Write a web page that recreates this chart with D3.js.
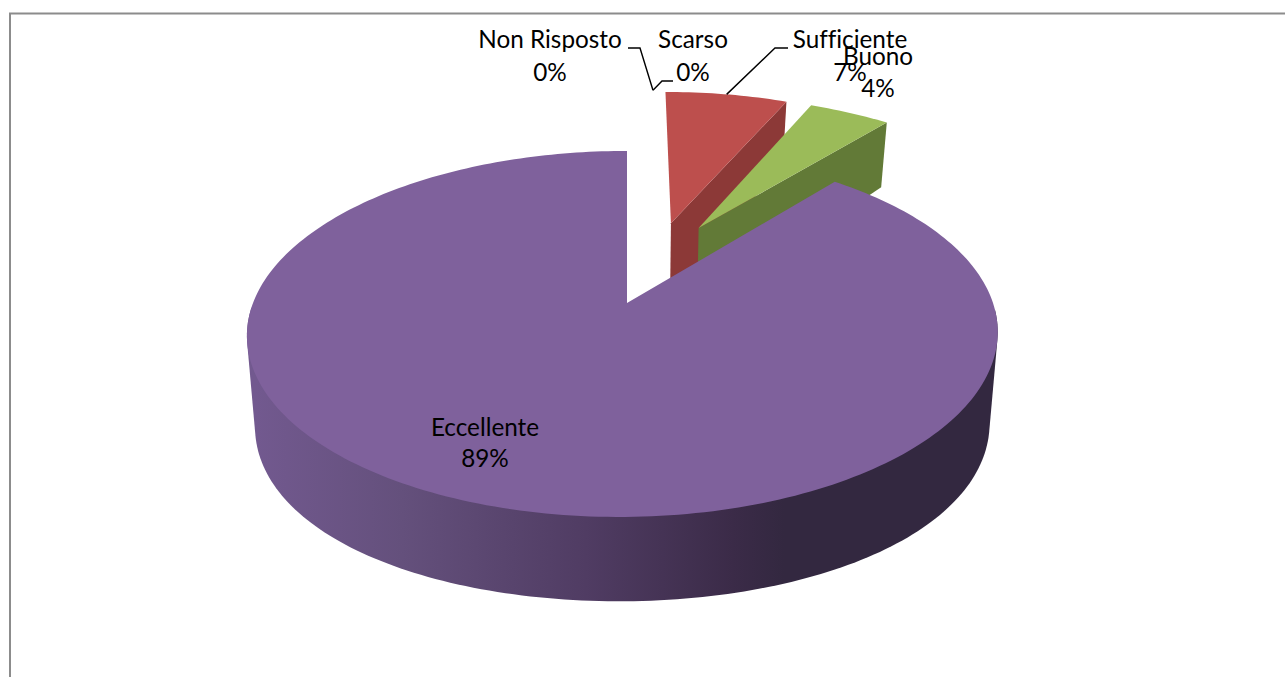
<!DOCTYPE html>
<html><head><meta charset="utf-8">
<style>html,body{margin:0;padding:0;background:#fff;overflow:hidden}
text{font-family:Lato,"Open Sans",sans-serif;font-size:24.3px;fill:#000;text-anchor:middle;font-variant-ligatures:none}</style>
<script src="https://cdn.jsdelivr.net/npm/d3@7"></script></head>
<body><script>
const categories = ["Non Risposto","Scarso","Sufficiente","Buono","Eccellente"];
const values = [0,0,6.6,4.4,89];
const percentLabels = ["0%","0%","7%","4%","89%"];
const topColors = ["#4f81bd","#c0504d","#bd4f4d","#9bbb59","#7f619c"];
const wallColors = ["#385d8a","#8c3937","#8c3937","#627a37","#5a4570"];
// explosion of each slice, in units of the pie radius [sideways, backwards]
const explode = [[0.088,0.50],[0.088,0.50],[0.13,0.485],[0.21,0.454],[0,0]];
// label layout: centre x, first-line baseline, second-line baseline
const labelPos = [[550,48,81],[693,48,81],[850,48,81],[878,65,97],[485,436,467]];
// leader polylines: elbow points, ending at the slice
const leaders = [[[628,48],[640,48]],[[673,81],[662,81]],[[788,48],[775,48]],null,null];

const W=1285,H=677;
const svg=d3.select("body").append("svg").attr("width",W).attr("height",H).style("display","block");

// perspective projection of the pie's unit circle, top and bottom planes
const K=0.169, K2=0.1, CX=627, CY=303, SKEW=4;
const project=(u,v,bottom)=>{
  const den=1+K*v;
  const skew=SKEW*(u*u+v*v)*Math.max(0,1-v);
  return bottom ? [CX+362*u/den-skew, CY+89.4-188*v/(1+K2*v)]
                : [CX+370*u/den-skew, CY-177.8*v/den];
};
const arcs=d3.pie().sort(null).value(d=>d)(values);
const angles=(a)=>{
  const n=Math.max(2,Math.ceil((a.endAngle-a.startAngle)/0.02));
  return d3.range(n+1).map(j=>a.startAngle+(a.endAngle-a.startAngle)*j/n);
};
const atAngle=(t,i,bottom)=>project(Math.sin(t)+explode[i][0],Math.cos(t)+explode[i][1],bottom);
const rim=(a,i,bottom)=>angles(a).map(t=>atAngle(t,i,bottom));
const apex=(i,bottom)=>project(explode[i][0],explode[i][1],bottom);
const line=d3.line();

// frame (top and left edges are the only ones in view)
svg.append("path").attr("d",line([[10,H],[10,13.5],[W,13.5]]))
  .attr("fill","none").attr("stroke","#8c8c8c").attr("stroke-width",2);

// gradient of the large wall
const defs=svg.append("defs");
const grad=defs.append("linearGradient").attr("id","wall").attr("gradientUnits","userSpaceOnUse")
  .attr("x1",255).attr("x2",990).attr("y1",0).attr("y2",0);
[[0,"#72598f"],[0.2,"#64507c"],[0.45,"#503c63"],[0.65,"#3b2b48"],[0.72,"#332840"],[1,"#332840"]]
  .forEach(s=>grad.append("stop").attr("offset",s[0]).attr("stop-color",s[1]));

const g=svg.append("g");
[2,3,4].forEach(i=>{
  const a=arcs[i];
  const top=rim(a,i,false);
  if(i<4){
    const bot=rim(a,i,true);
    g.append("path").attr("d",line([apex(i,false),top[top.length-1],bot[bot.length-1],apex(i,true)])+"Z").attr("fill",wallColors[i]);
  } else {
    // wall silhouette: hull of the front part of both rims, covered above by the top face
    const front=angles(a).filter(t=>Math.cos(t)<-0.02);
    const pts=front.map(t=>atAngle(t,i,false)).concat(front.map(t=>atAngle(t,i,true)));
    g.append("path").attr("d",line(d3.polygonHull(pts))+"Z").attr("fill","url(#wall)");
  }
  g.append("path").attr("d",line([apex(i,false)].concat(top))+"Z").attr("fill",topColors[i]);
});

// leaders
leaders.forEach((pts,i)=>{
  if(!pts) return;
  const mid=(arcs[i].startAngle+arcs[i].endAngle)/2;
  svg.append("path").attr("d",line(pts.concat([atAngle(mid,i,false)])))
    .attr("fill","none").attr("stroke","#000").attr("stroke-width",1.4);
});

// labels
categories.forEach((c,i)=>{
  const p=labelPos[i];
  svg.append("text").attr("x",p[0]).attr("y",p[1]).text(c);
  svg.append("text").attr("x",p[0]).attr("y",p[2]).text(percentLabels[i]);
});
</script></body></html>
